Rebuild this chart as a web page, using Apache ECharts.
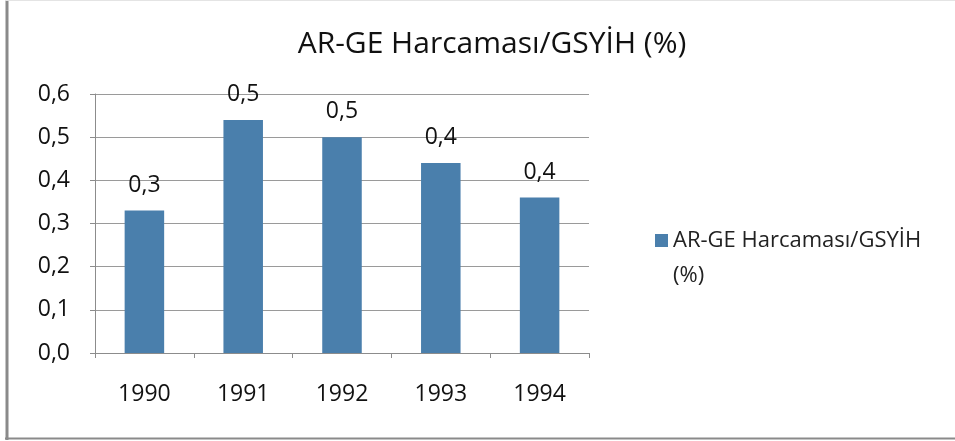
<!DOCTYPE html>
<html><head><meta charset="utf-8">
<script src="https://cdn.jsdelivr.net/npm/echarts@6/dist/echarts.min.js"></script>
<style>html,body{margin:0;padding:0;background:#fff}#c{width:955px;height:441px}</style>
</head><body><div id="c"></div>
<script>
const titleText = 'AR-GE Harcaması/GSYİH (%)';
const seriesName = 'AR-GE Harcaması/GSYİH (%)';
const categories = ['1990', '1991', '1992', '1993', '1994'];
const values = [0.33, 0.54, 0.50, 0.44, 0.36];
const yTicks = { min: 0, max: 0.6, interval: 0.1 };

const FONT = 'Open Sans';
const fmt = v => Number(v).toFixed(1).replace('.', ',');
const chart = echarts.init(document.getElementById('c'), null, {renderer: 'canvas'});
chart.setOption({
  animation: false,
  backgroundColor: '#fff',
  title: {
    text: titleText, left: 487, top: 24, textAlign: 'center',
    textStyle: {fontFamily: FONT, fontSize: 30, fontWeight: 'normal', color: '#111'}
  },
  legend: {
    left: 650, top: 218, orient: 'vertical', itemWidth: 13, itemHeight: 70, itemGap: 6,
    icon: 'path://M0,11H13V24H0Z M0,0H0.01V0.01H0Z M0,70H0.01V70.01H0Z',
    formatter: n => n.replace(' (', '\n('),
    textStyle: {fontFamily: FONT, fontSize: 22, color: '#222', lineHeight: 35}
  },
  grid: {left: 95, right: 366, top: 94, bottom: 88},
  xAxis: {
    type: 'category', data: categories,
    axisLine: {lineStyle: {color: '#8c8c8c', width: 1}},
    axisTick: {show: true, length: 5, alignWithLabel: false, lineStyle: {color: '#8c8c8c'}},
    axisLabel: {margin: 30, fontFamily: FONT, fontSize: 23, color: '#111'}
  },
  yAxis: {
    type: 'value', min: yTicks.min, max: yTicks.max, interval: yTicks.interval,
    axisLine: {show: true, lineStyle: {color: '#8c8c8c', width: 1}},
    axisTick: {show: true, length: 5, lineStyle: {color: '#8c8c8c'}},
    splitLine: {lineStyle: {color: '#9a9a9a', width: 1}},
    axisLabel: {margin: 25, fontFamily: FONT, fontSize: 23, color: '#111', formatter: fmt}
  },
  series: [{
    name: seriesName, type: 'bar', data: values, barWidth: '40%',
    itemStyle: {color: '#4a7fac'},
    label: {show: true, position: 'top', distance: 14, formatter: p => fmt(p.value),
      fontFamily: FONT, fontSize: 23, color: '#111'}
  }],
  graphic: [
    {type: 'line', shape: {x1: 7, y1: 0, x2: 7, y2: 440}, style: {stroke: '#8a8a8a', lineWidth: 3}, silent: true},
    {type: 'line', shape: {x1: 5, y1: 438.5, x2: 955, y2: 438.5}, style: {stroke: '#8a8a8a', lineWidth: 2}, silent: true},
    {type: 'line', shape: {x1: 5, y1: 0.5, x2: 955, y2: 0.5}, style: {stroke: '#e4e4e4', lineWidth: 1}, silent: true}
  ]
});
</script></body></html>
